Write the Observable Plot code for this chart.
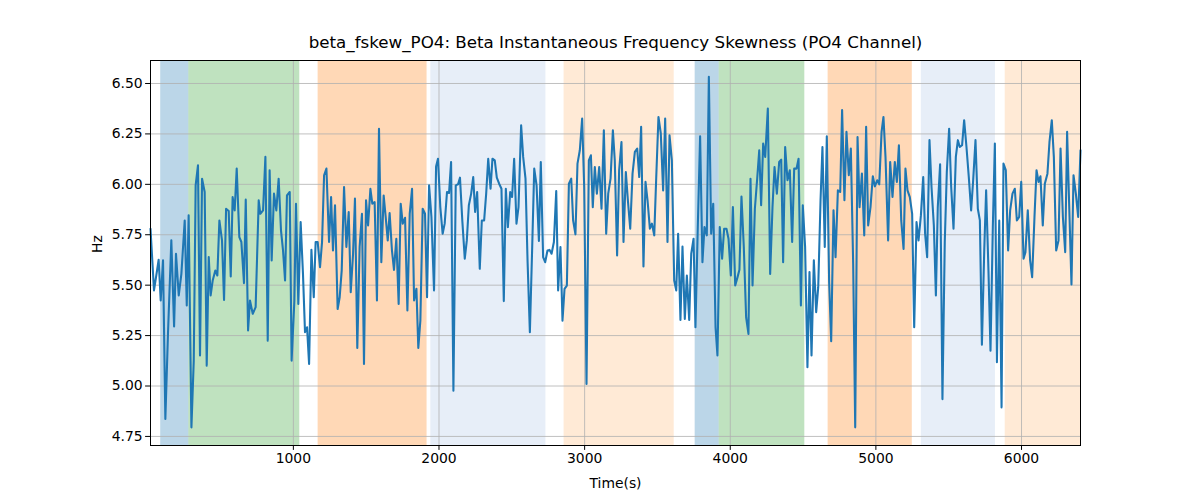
<!DOCTYPE html>
<html>
<head>
<meta charset="utf-8">
<script src="https://cdn.jsdelivr.net/npm/d3@7"></script>
<script src="https://cdn.jsdelivr.net/npm/@observablehq/plot@0.6"></script>
<style>
  html, body { margin: 0; padding: 0; background: #fff; }
  #chart svg { display: block; }
</style>
</head>
<body>
<div id="chart"></div>
<script>
// ---- Data ----
const titleText = "beta_fskew_PO4: Beta Instantaneous Frequency Skewness (PO4 Channel)";
const xLabel = "Time(s)";
const yLabel = "Hz";

// time (s) samples of the PO4 beta frequency skewness
const times = [
  19,43,57,75,89,105,121,139,162,181,194,213,231,254,268,281,300,316,329,345,359,373,391,405,419,432,446,464,478,492,510,524,538,556,570,583,597,611,629,643,661,673,689,702,721,
  741,762,773,792,808,824,837,851,867,883,899,915,929,943,956,975,988,1007,1018,1034,1050,1066,1080,1094,1108,1124,1140,1153,1167,1183,1197,1211,1227,1245,1259,1272,1286,1304,1318,1332,1348,1364,1380,1394,1410,1423,1439,
  1455,1471,1485,1499,1513,1529,1542,1558,1574,1588,1604,1620,1634,1648,1661,1677,1691,1707,1723,1737,1751,1767,1783,1799,1815,1829,1845,1858,1872,1888,1904,1918,1932,1948,1966,1980,1993,2009,2025,2039,2055,2069,2083,2099,2115,2131,2144,2160,2177,
  2191,2205,2221,2235,2248,2262,2280,2294,2310,2324,2338,2354,2367,2383,2397,2413,2429,2445,2459,2473,2489,2502,2516,2532,2546,2564,2578,2594,2608,2624,2640,2654,2670,2686,2699,2715,2729,2745,2759,2773,2789,2805,2818,2834,2848,2862,2878,2892,2908,2921,
  2937,2951,2967,2983,2997,3013,3029,3043,3056,3070,3084,3100,3116,3132,3148,3162,3178,3194,3207,3223,3237,3253,3267,3283,3297,3313,3329,3345,3361,3375,3388,3404,3418,3432,3448,3462,3478,3491,3507,3523,3539,3553,3569,3583,3599,3615,3629,3642,
  3658,3672,3688,3702,3718,3732,3748,3761,3777,3793,3809,3823,3839,3853,3869,3883,3899,3912,3928,3944,3958,3974,3988,4004,4018,4034,4050,4063,4077,4093,4109,4125,4139,4153,4169,4185,4199,4212,4226,4240,4258,4274,4290,4304,4320,4336,4350,4363,
  4377,4393,4409,4425,4439,4455,4469,4485,4498,4514,4530,4544,4558,4574,4590,4604,4620,4633,4649,4663,4679,4693,4709,4723,4739,4755,4768,4784,4798,4814,4828,4844,4858,4874,4888,4904,4920,4933,4947,4963,4979,4993,5009,5023,5039,5052,5066,5084,
  5098,5114,5130,5144,5158,5174,5190,5203,5217,5233,5249,5263,5279,5293,5309,5325,5338,5352,5368,5382,5398,5412,5425,5441,5457,5473,5487,5503,5517,5533,5549,5563,5576,5592,5606,5622,5638,5654,5668,5684,5700,5714,5728,5744,5757,5773,5787,
  5803,5817,5831,5847,5863,5876,5892,5908,5922,5938,5954,5968,5984,5998,6014,6027,6043,6059,6073,6089,6103,6117,6130,6146,6160,6178,6192,6208,6222,6238,6254,6268,6284,6300,6313,6327,6343,6357,6373,6389,6405
];

const skew = [
  5.780,5.474,5.540,5.626,5.424,5.623,4.836,5.258,5.722,5.295,5.656,5.449,5.556,5.821,5.399,5.846,4.795,5.126,5.995,6.094,5.151,6.028,5.962,5.101,5.639,5.449,5.523,5.573,5.548,5.821,5.722,5.427,5.879,5.868,5.543,5.937,5.871,6.078,5.738,5.714,5.510,5.924,5.275,5.424,5.358,
  5.391,5.921,5.854,5.871,6.136,5.225,6.070,5.623,5.954,5.871,6.028,5.772,5.672,5.523,5.945,5.962,5.126,5.424,5.904,5.407,5.813,5.556,5.267,5.291,5.109,5.675,5.440,5.714,5.714,5.589,5.714,6.045,6.078,5.714,5.937,5.672,5.896,5.382,5.440,5.573,5.987,5.689,5.863,5.465,5.656,5.929,5.189,
  5.689,5.854,5.109,5.921,5.796,5.978,5.904,5.912,5.424,6.276,5.614,5.945,5.838,5.722,5.858,5.672,5.576,5.730,5.407,5.904,5.805,5.834,5.374,5.854,5.978,5.424,5.482,5.189,5.324,5.879,5.854,5.440,5.995,5.838,5.474,6.089,6.127,5.887,5.755,5.805,5.962,5.957,6.111,4.977,5.995,6.000,6.033,5.821,5.631,
  5.722,5.896,5.954,6.036,5.863,5.962,5.581,5.821,5.821,5.954,6.127,5.978,6.127,6.119,6.033,6.003,5.978,5.421,5.978,5.788,5.962,5.937,6.127,5.805,5.887,6.293,6.136,6.028,5.623,5.267,5.689,6.078,5.995,5.719,6.111,5.639,5.614,5.672,5.675,5.656,5.714,5.967,5.474,5.689,5.324,5.482,5.498,6.003,6.028,5.821,
  5.752,6.103,6.169,6.326,5.987,5.010,6.119,6.144,5.887,6.086,5.954,6.086,5.879,6.268,5.755,5.954,6.028,6.268,6.119,5.647,6.070,6.210,5.714,6.061,5.921,5.780,6.053,6.161,6.177,6.036,6.285,5.593,6.012,5.921,5.780,5.805,5.747,6.020,6.334,6.252,5.970,6.326,5.714,6.243,6.119,5.523,5.474,5.755,
  5.328,5.692,5.333,5.548,5.328,5.656,5.730,5.291,5.788,6.238,5.614,5.788,5.747,6.533,5.755,5.904,5.291,5.151,5.788,5.631,5.780,5.780,5.730,5.548,5.887,5.498,5.540,5.576,5.940,5.689,5.341,5.258,6.028,5.498,5.879,6.028,6.169,5.896,6.202,6.136,6.376,5.556,5.887,6.086,5.954,6.111,6.122,5.614,
  6.185,6.020,6.070,5.714,6.078,6.078,6.127,5.399,5.896,5.689,5.093,5.565,5.151,5.623,5.366,5.490,5.921,6.185,5.689,6.238,5.515,5.222,5.871,5.639,5.970,5.962,6.368,5.921,6.260,6.045,6.177,5.606,4.795,6.235,5.887,6.053,5.747,6.285,5.796,5.887,6.040,5.990,6.020,6.000,6.260,6.334,6.136,5.722,
  6.111,5.937,6.111,6.012,6.194,5.821,5.680,6.078,5.970,5.937,5.854,5.291,5.813,5.722,5.846,6.036,5.755,5.639,6.219,5.987,5.796,5.449,5.887,6.099,4.935,5.714,6.061,6.276,5.987,5.780,6.136,6.219,6.185,6.194,6.318,6.185,6.036,5.871,6.020,6.219,5.879,5.821,5.205,5.672,5.970,5.573,5.175,
  5.788,6.202,5.118,5.821,4.894,6.103,6.070,5.672,5.871,5.954,5.978,5.821,5.838,6.012,5.631,5.664,5.871,5.623,5.540,5.838,6.070,6.012,6.040,5.796,6.003,6.053,6.210,6.318,6.136,5.672,5.722,6.177,5.838,5.664,6.260,5.904,5.503,6.045,5.954,5.838,6.169
];

// shaded state periods
const bandStart = [89, 282, 1170, 1944, 2859, 3759, 3924, 4672, 5312, 5888];
const bandEnd   = [282, 1044, 1918, 2734, 3615, 3924, 4512, 5250, 5821, 6405];
const bandState = ["s0", "s1", "s2", "s3", "s4", "s0", "s1", "s2", "s3", "s4"];

const xTicks = [1000, 2000, 3000, 4000, 5000, 6000];
const yTicks = [4.75, 5.00, 5.25, 5.50, 5.75, 6.00, 6.25, 6.50];

const stateColors = {
  s0: "#1f77b4",
  s1: "#2ca02c",
  s2: "#ff7f0e",
  s3: "#aec7e8",
  s4: "#ffbb78"
};

// ---- Tables built from the arrays ----
const series = times.map((t, i) => ({t, v: skew[i]}));
const bands = bandStart.map((s, i) => ({x1: s, x2: bandEnd[i], state: bandState[i]}));

const xDomain = [19, 6405];
const yDomain = [4.705, 6.614];

const font = "DejaVu Sans, sans-serif";

const chart = Plot.plot({
  width: 1200,
  height: 500,
  marginLeft: 150,
  marginRight: 120,
  marginTop: 60,
  marginBottom: 55,
  style: {fontFamily: font, fontSize: "13.9px", color: "#000", background: "#fff", overflow: "visible"},
  x: {domain: xDomain, label: null},
  y: {domain: yDomain, label: null},
  marks: [
    Plot.rectY(bands, {
      x1: "x1", x2: "x2", y1: yDomain[0], y2: yDomain[1],
      fill: d => stateColors[d.state], fillOpacity: 0.3
    }),
    Plot.ruleX(xTicks, {stroke: "#b0b0b0", strokeWidth: 0.8}),
    Plot.ruleY(yTicks, {stroke: "#b0b0b0", strokeWidth: 0.8}),
    Plot.line(series, {x: "t", y: "v", stroke: "#1f77b4", strokeWidth: 2.08, strokeLinejoin: "round", curve: "linear"}),
    Plot.frame({stroke: "#000", strokeWidth: 1}),
    Plot.axisX({ticks: xTicks, tickFormat: d3.format("d"), tickSize: 4.9, tickPadding: 3, label: null, fontSize: 13.9, stroke: "#000"}),
    Plot.axisY({ticks: yTicks, tickFormat: d3.format(".2f"), tickSize: 4.9, tickPadding: 3, label: null, fontSize: 13.9}),
    Plot.text([titleText], {frameAnchor: "top", dy: -13, text: d => d, fontSize: 16.7, lineAnchor: "bottom", fill: "#000"}),
    Plot.text([xLabel], {frameAnchor: "bottom", dy: 42, text: d => d, fontSize: 13.9, lineAnchor: "bottom", fill: "#000"}),
    Plot.text([yLabel], {frameAnchor: "left", dx: -53, text: d => d, fontSize: 13.9, rotate: -90, fill: "#000"})
  ]
});

document.getElementById("chart").appendChild(chart);
</script>
</body>
</html>
